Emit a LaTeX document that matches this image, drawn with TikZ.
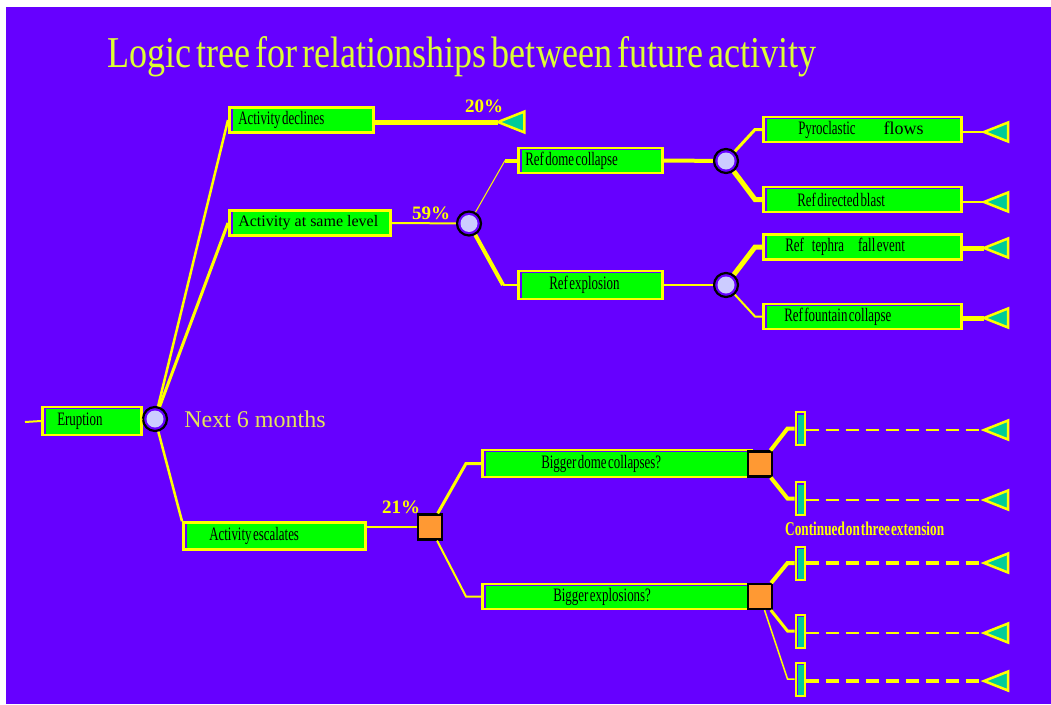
\documentclass[tikz,border=0pt]{standalone}
\usepackage{fontspec}
\setmainfont{Liberation Serif}
\newfontfamily\narrowfont[FakeStretch=0.68]{Liberation Serif}
\newfontfamily\headfont[FakeStretch=0.82]{Liberation Serif}
\usepackage{tikz}
\usetikzlibrary{positioning}
\newcommand\wordgap[1]{\spaceskip #1\relax}

\definecolor{violetbg}{RGB}{102,0,255}
\definecolor{boxgreen}{RGB}{0,255,0}
\definecolor{lemon}{RGB}{255,255,0}
\definecolor{tealfill}{RGB}{0,204,153}
\definecolor{lilac}{RGB}{204,204,255}
\definecolor{peach}{RGB}{255,153,51}
\definecolor{headcol}{RGB}{221,255,51}
\definecolor{dullyellow}{RGB}{228,228,90}

\tikzset{
  box/.style={draw=lemon, line width=2.5pt, fill=violetbg, anchor=west,
    minimum height=25pt, inner sep=0pt, align=left, text=black,
    font=\narrowfont\fontsize{19}{19}\selectfont,
    execute at begin node=\wordgap{1.5pt},
    path picture={\fill[boxgreen] ([shift={(3.5pt,-1.5pt)}]path picture bounding box.north west)
      rectangle ([shift={(-1.5pt,1.5pt)}]path picture bounding box.south east);}},
  chance/.style={circle, draw=black, line width=2.2pt, fill=violetbg,
    minimum size=24pt, inner sep=0pt,
    path picture={\fill[lilac] (path picture bounding box.center) circle (8.5pt);}},
  decision/.style={rectangle, draw=black, line width=2.2pt, fill=peach,
    minimum width=24pt, minimum height=25pt, inner sep=0pt},
  endbar/.style={rectangle, draw=lemon, line width=2pt, fill=violetbg,
    minimum width=9pt, minimum height=33pt, inner sep=0pt,
    path picture={\fill[tealfill] ([shift={(2.2pt,-2.5pt)}]path picture bounding box.north west)
      rectangle (path picture bounding box.south east);}},
  headline/.style={anchor=base west, inner sep=0pt, text=headcol,
    font=\headfont\fontsize{44}{44}\selectfont\wordgap{5pt}},
  remark/.style={inner sep=0pt, text=dullyellow, font=\fontsize{24}{24}\selectfont},
  pct/.style={anchor=base west, inner sep=0pt, text=lemon,
    font=\bfseries\fontsize{19}{19}\selectfont},
  cont/.style={anchor=base west, inner sep=0pt, text=lemon,
    font=\narrowfont\bfseries\fontsize{19.5}{19.5}\selectfont\wordgap{1pt}},
  wire/.style={draw=lemon, line width=#1},
  wire/.default=2pt,
  dashwire/.style={draw=lemon, line width=#1, dash pattern=on 13pt off 7pt},
  endtri/.pic={\filldraw[fill=tealfill, draw=lemon, line width=2.5pt]
    (0,0) -- (24,-9.5) -- (24,9.5) -- cycle;}
}

\begin{document}
\begin{tikzpicture}[x=1pt,y=-1pt]
\useasboundingbox (0,0) rectangle (1051,704);
\fill[white] (0,0) rectangle (1051,704);
\fill[violetbg] (6,7) rectangle (1051,704);

\node[headline] (head) at (107,67) {Logic tree for relationships between future activity};

% first level
\coordinate (start) at (25,422);
\node[box, text width=99pt, minimum height=28pt] (erupt) at (41,421) {\hspace*{15pt}Eruption};
\node[chance] (c0) at (155,419) {};
\node[remark, right=16pt of c0] (next) {Next 6 months};

\node[box, text width=144pt] (decl) at (228,120) {\hspace*{9pt}Activity declines};
\node[box, text width=161pt, font=\rmfamily\fontsize{16}{16}\selectfont,
  execute at begin node=\wordgap{4pt}] (same) at (228,223) {\hspace*{9pt}Activity at same level};
\node[box, text width=182pt, minimum height=27pt] (esc) at (182,536) {\hspace*{26pt}Activity escalates};

\node[pct] (p20) at (465,112) {20\%};
\node[pct] (p59) at (412,219) {59\%};
\node[pct] (p21) at (382,513) {21\%};

% same level branch
\node[chance] (c1) at (469,223.5) {};
\node[box, text width=144pt] (dome) at (517,160.5) {\hspace*{7pt}Ref dome collapse};
\node[box, text width=144pt, minimum height=28pt] (expl) at (517,285) {\hspace*{31pt}Ref explosion};
\node[chance] (c2) at (726,161) {};
\node[chance] (c3) at (726,285) {};
\node[box, text width=198pt] (pyro) at (762,129.5) {\hspace*{35pt}Pyroclastic\hspace{28pt}{\rmfamily\fontsize{18}{18}\selectfont flows}};
\node[box, text width=198pt] (blast) at (762,199.5) {\hspace*{34pt}Ref directed blast};
\node[box, text width=198pt] (tephra) at (762,247) {\hspace*{22pt}Ref\hspace{8pt}tephra\hspace{14pt}fall event};
\node[box, text width=198pt] (fount) at (762,316.5) {\hspace*{21pt}Ref fountain collapse};

% escalation branch
\node[decision] (s1) at (430,527) {};
\node[box, text width=269pt, minimum height=27pt] (bdome) at (481,463.5) {\hspace*{59pt}Bigger dome collapses?};
\node[box, text width=269pt] (bexpl) at (481,596.5) {\hspace*{71pt}Bigger explosions?};
\node[decision] (s2) at (760,464) {};
\node[decision] (s3) at (760,596.5) {};
\node[endbar] (b1) at (800,428.5) {};
\node[endbar] (b2) at (800,498.5) {};
\node[endbar] (b3) at (800,563) {};
\node[endbar] (b4) at (800,631) {};
\node[endbar] (b5) at (800,679) {};
\node[cont] (cnote) at (785,535) {Continued on three extension};

% end points
\coordinate (tdecl) at (498,122);
\coordinate (tpyro) at (984,132);
\coordinate (tblast) at (984,202);
\coordinate (ttephra) at (984,248);
\coordinate (tfount) at (984,318);
\coordinate (te1) at (984,430);
\coordinate (te2) at (984,500);
\coordinate (te3) at (984,563);
\coordinate (te4) at (984,633);
\coordinate (te5) at (984,681);

% connectors
\draw[wire] (start) -- (erupt.west);
\draw[wire] (erupt) -- (c0);
\draw[wire=2.5pt] (c0) -- (decl.west);
\draw[wire=3pt] (c0) -- (same.west);
\draw[wire=2.5pt] (c0) -- (esc.north west);
\draw[wire=5pt] (decl.east |- tdecl) -- (tdecl);
\draw[wire] (same.east) -- (c1);
\draw[wire=1pt] (c1) -- ([xshift=-12pt]dome.west);
\draw[wire=4pt] ([xshift=-12pt]dome.west) -- (dome.west);
\draw[wire=4pt] (c1) -- ([xshift=-14pt]expl.west);
\draw[wire] ([xshift=-14pt]expl.west) -- (expl.west);
\draw[wire=4pt] (dome.east) -- (c2);
\draw[wire] (expl.east) -- (c3);
\draw[wire=3pt] (c2) -- ([xshift=-7pt]pyro.west) -- (pyro.west);
\draw[wire=5pt] (c2) -- ([xshift=-7pt]blast.west) -- (blast.west);
\draw[wire=5pt] (c3) -- ([xshift=-7pt]tephra.west) -- (tephra.west);
\draw[wire] (c3) -- ([xshift=-7pt]fount.west) -- (fount.west);
\draw[wire] (pyro.east |- tpyro) -- (tpyro);
\draw[wire] (blast.east |- tblast) -- (tblast);
\draw[wire=5pt] (tephra.east |- ttephra) -- (ttephra);
\draw[wire=5pt] (fount.east |- tfount) -- (tfount);

\draw[wire] (esc.east |- s1) -- (s1);
\draw[wire=3pt] (s1) -- ([xshift=-15pt]bdome.west) -- (bdome.west);
\draw[wire] (s1) -- ([xshift=-15pt]bexpl.west) -- (bexpl.west);
\draw[wire=4pt] (s2) -- ([xshift=-7pt]b1.west) -- (b1.west);
\draw[wire=4pt] (s2) -- ([xshift=-7pt]b2.west) -- (b2.west);
\draw[wire=4pt] (s3) -- ([xshift=-7pt]b3.west) -- (b3.west);
\draw[wire=3pt] (s3) -- ([xshift=-7pt]b4.west) -- (b4.west);
\draw[wire=1.5pt] (s3) -- ([xshift=-7pt]b5.west) -- (b5.west);
\draw[dashwire=2pt] (b1.east |- te1) -- (te1);
\draw[dashwire=2pt] (b2.east |- te2) -- (te2);
\draw[dashwire=4pt] (b3.east |- te3) -- (te3);
\draw[dashwire=2pt] (b4.east |- te4) -- (te4);
\draw[dashwire=4pt] (b5.east |- te5) -- (te5);

% end triangles
\pic[scale=1.1] at (tdecl) {endtri};
\foreach \t in {tpyro,tblast,ttephra,tfount,te1,te2,te3,te4,te5}
  \pic at (\t) {endtri};
\end{tikzpicture}
\end{document}
